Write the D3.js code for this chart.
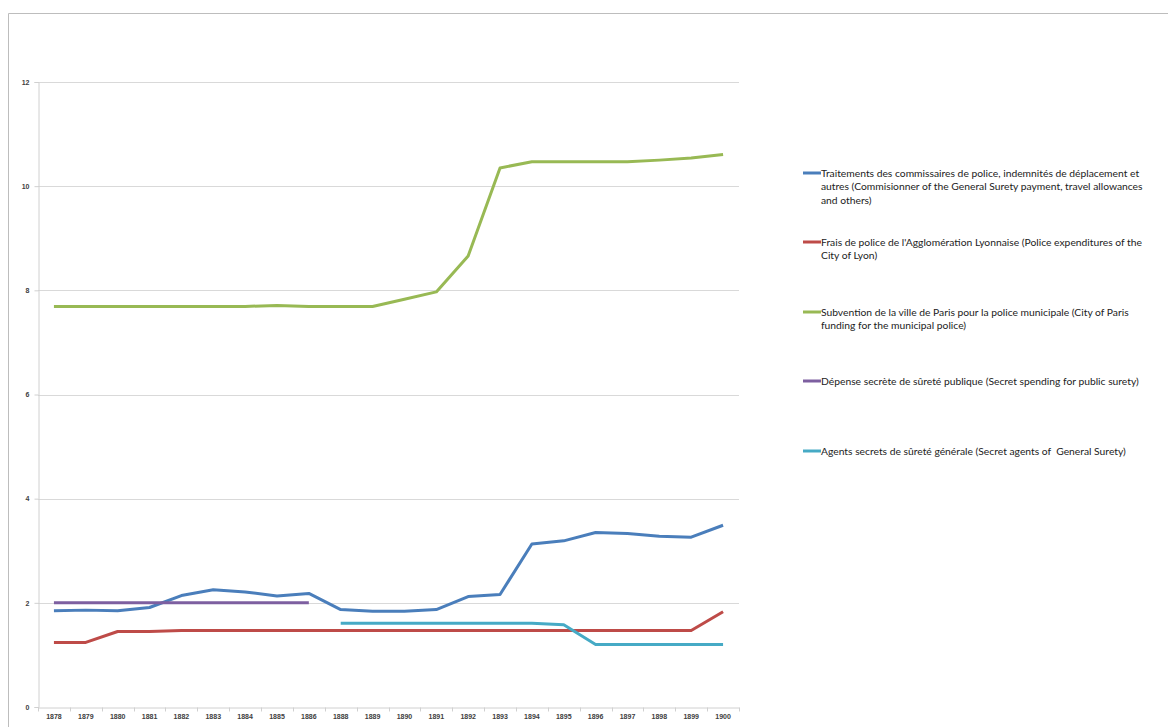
<!DOCTYPE html>
<html>
<head>
<meta charset="utf-8">
<script src="https://cdn.jsdelivr.net/npm/d3@7"></script>
<style>
  body { margin: 0; background: #fff; }
  svg { display: block; font-family: Lato, "Open Sans", sans-serif; }
  text { white-space: pre; }
</style>
</head>
<body>
<svg width="1168" height="727"></svg>
<script>
  // years (1887 absent in source)
  const years = ["1878","1879","1880","1881","1882","1883","1884","1885","1886","1888","1889","1890",
                 "1891","1892","1893","1894","1895","1896","1897","1898","1899","1900"];

  const commissaires = [1.85,1.86,1.85,1.91,2.14,2.25,2.21,2.13,2.18,1.87,1.84,1.84,
                        1.87,2.12,2.16,3.13,3.19,3.35,3.33,3.28,3.26,3.49];
  const lyon = [1.24,1.24,1.45,1.45,1.47,1.47,1.47,1.47,1.47,1.47,1.47,1.47,
                1.47,1.47,1.47,1.47,1.47,1.47,1.47,1.47,1.47,1.83];
  const paris = [7.69,7.69,7.69,7.69,7.69,7.69,7.69,7.71,7.69,7.69,7.69,7.83,
                 7.97,8.66,10.35,10.47,10.47,10.47,10.47,10.50,10.54,10.61];
  const depenseSecrete = [2,2,2,2,2,2,2,2,2,null,null,null,
                          null,null,null,null,null,null,null,null,null,null];
  const agentsSecrets = [null,null,null,null,null,null,null,null,null,1.61,1.61,1.61,
                         1.61,1.61,1.61,1.61,1.58,1.20,1.20,1.20,1.20,1.20];

  const yTicks = [0,2,4,6,8,10,12];

  const seriesNames = [
    ["Traitements des commissaires de police, indemnités de déplacement et",
     "autres (Commisionner of the General Surety payment, travel allowances",
     "and others)"],
    ["Frais de police de l'Agglomération Lyonnaise (Police expenditures of the",
     "City of Lyon)"],
    ["Subvention de la ville de Paris pour la police municipale (City of Paris",
     "funding for the municipal police)"],
    ["Dépense secrète de sûreté publique (Secret spending for public surety)"],
    ["Agents secrets de sûreté générale (Secret agents of  General Surety)"]
  ];
  const seriesColors = ["#4a7ebb","#be4b48","#98b954","#7d5fa0","#46aac5"];
  const seriesValues = [commissaires, lyon, paris, depenseSecrete, agentsSecrets];

  const svg = d3.select("svg");

  // outer frame
  svg.append("path")
     .attr("d", "M8.5,727 V13.5 H1168")
     .attr("fill", "none").attr("stroke", "#bdbdbd").attr("stroke-width", 1);

  const x = d3.scaleBand().domain(years).range([38, 739]);
  const y = d3.scaleLinear().domain([0, 12]).range([707, 82]);

  // gridlines
  svg.append("g").selectAll("line")
     .data(yTicks.filter(d => d > 0))
     .join("line")
     .attr("x1", 38).attr("x2", 739)
     .attr("y1", d => Math.round(y(d)) + 0.5).attr("y2", d => Math.round(y(d)) + 0.5)
     .attr("stroke", "#d9d9d9");

  // y axis
  const yAxis = svg.append("g")
     .attr("transform", "translate(38.5,0)")
     .call(d3.axisLeft(y).tickValues(yTicks).tickSize(4).tickPadding(5).tickFormat(d3.format("d")));
  yAxis.select(".domain").attr("stroke", "#d0d0d0");
  yAxis.selectAll(".tick line").attr("stroke", "#d0d0d0");
  yAxis.selectAll("text").attr("fill", "#404040").attr("font-size", 7).attr("font-weight", "bold");

  // x axis
  const xAxis = svg.append("g")
     .attr("transform", "translate(0,707.5)")
     .call(d3.axisBottom(x).tickSize(0).tickPadding(7));
  xAxis.select(".domain").attr("stroke", "#d0d0d0");
  xAxis.selectAll("text").attr("fill", "#404040").attr("font-size", 7).attr("font-weight", "bold");
  // tick marks on category boundaries
  xAxis.append("g").selectAll("line")
     .data(d3.range(years.length + 1))
     .join("line")
     .attr("x1", i => Math.round(x.range()[0] + i * x.step()) + 0.5)
     .attr("x2", i => Math.round(x.range()[0] + i * x.step()) + 0.5)
     .attr("y1", 0).attr("y2", 4)
     .attr("stroke", "#d0d0d0");

  // lines
  const line = d3.line()
     .defined(d => d.v != null)
     .x(d => x(d.year) + x.bandwidth() / 2)
     .y(d => y(d.v));

  seriesValues.forEach((vals, i) => {
    svg.append("path")
       .datum(years.map((yr, j) => ({ year: yr, v: vals[j] })))
       .attr("fill", "none")
       .attr("stroke", seriesColors[i])
       .attr("stroke-width", 3)
       .attr("stroke-linejoin", "round")
       .attr("d", line);
  });

  // legend
  const legendTop = [173, 242, 312, 381, 451];
  const legend = svg.append("g");
  seriesNames.forEach((lines, i) => {
    const g = legend.append("g").attr("transform", `translate(0,${legendTop[i]})`);
    g.append("line")
     .attr("x1", 803).attr("x2", 821).attr("y1", 0).attr("y2", 0)
     .attr("stroke", seriesColors[i]).attr("stroke-width", 3);
    g.append("text")
     .attr("x", 821).attr("y", 3.5)
     .attr("font-size", 10.3).attr("fill", "#222")
     .selectAll("tspan")
     .data(lines)
     .join("tspan")
     .attr("x", 821)
     .attr("dy", (d, k) => k === 0 ? 0 : 13.5)
     .text(d => d);
  });
</script>
</body>
</html>
